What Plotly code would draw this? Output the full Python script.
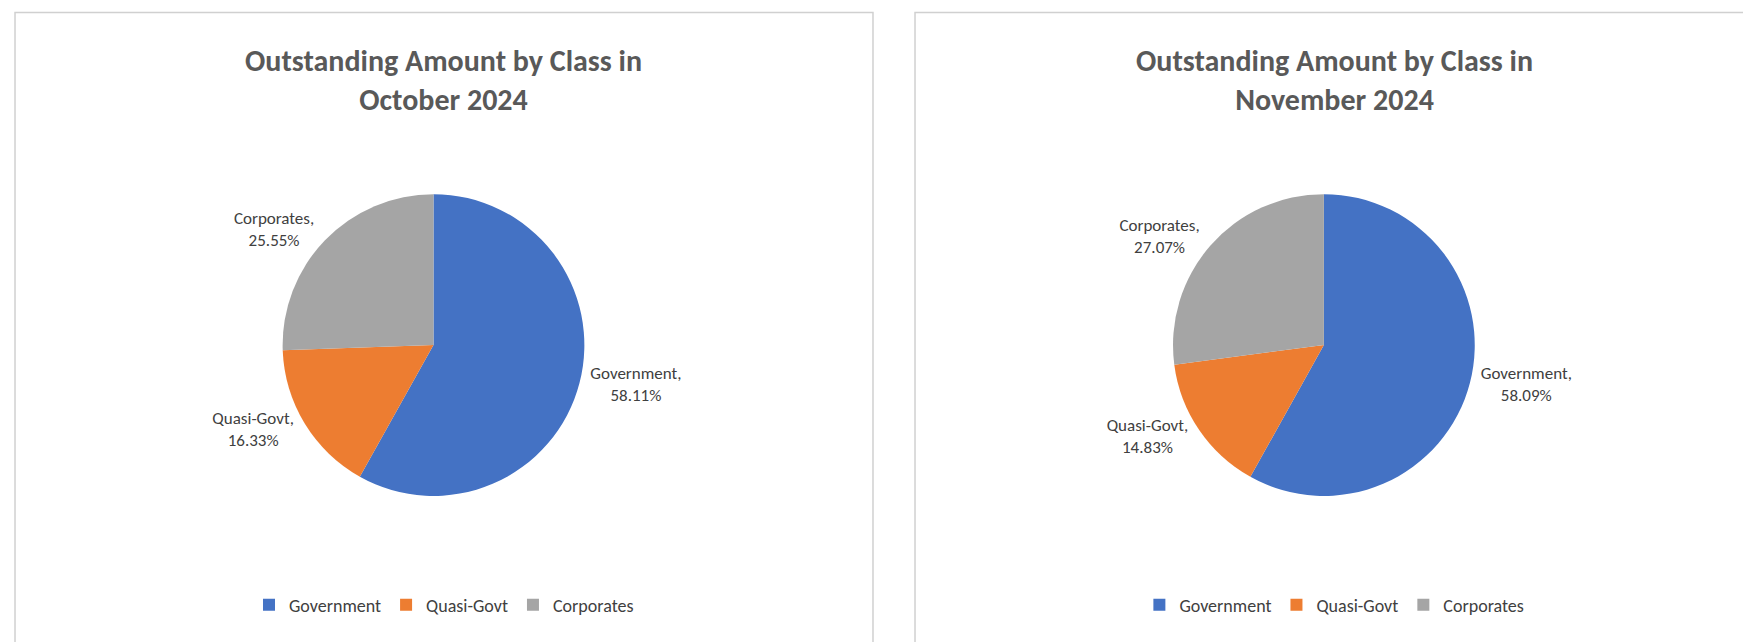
import plotly.graph_objects as go

classes = ["Government", "Quasi-Govt", "Corporates"]
oct_values = [58.11, 16.33, 25.55]
nov_values = [58.09, 14.83, 27.07]
titles = ["Outstanding Amount by Class in<br>October 2024", "Outstanding Amount by Class in<br>November 2024"]
colors = ["#4472C4", "#ED7D31", "#A5A5A5"]

panels = [(0.004, 0.494), (0.518, 0.997)]

fig = go.Figure()
for i, (vals, (x0, x1)) in enumerate(zip([oct_values, nov_values], panels)):
    cx = (x0 + x1) / 2 - 0.006
    fig.add_trace(go.Pie(
        labels=classes, values=vals, sort=False, direction="clockwise", rotation=0,
        marker=dict(colors=colors, line=dict(color="white", width=0)),
        texttemplate="%{label},<br>%{value:.2f}%", textposition="outside",
        textfont=dict(size=17, color="#404040"),
        domain=dict(x=[cx - 0.12, cx + 0.12], y=[0.24, 0.71]),
        showlegend=(i == 0), hoverinfo="label+value",
    ))
    fig.add_annotation(text="<b>" + titles[i] + "</b>", x=(x0 + x1) / 2, y=0.95, xref="paper", yref="paper",
                       xanchor="center", showarrow=False, yanchor="top", font=dict(size=30, color="#595959"))
    fig.add_shape(type="rect", xref="paper", yref="paper", x0=x0, x1=x1, y0=0.005, y1=0.993,
                  line=dict(color="#d0d0d0", width=1.5))

# legend entries for the second panel
for name, c in zip(classes, colors):
    fig.add_trace(go.Scatter(x=[None], y=[None], mode="markers", name=name, legend="legend2",
                             marker=dict(symbol="square", size=12, color=c)))

leg = dict(orientation="h", xanchor="center", yanchor="middle", y=0.07, font=dict(size=18, color="#404040"))
fig.update_layout(
    width=1751, height=642, paper_bgcolor="white", plot_bgcolor="white",
    margin=dict(l=0, r=0, t=0, b=0),
    font=dict(family="Calibri, Liberation Sans, sans-serif"),
    xaxis=dict(visible=False), yaxis=dict(visible=False),
    legend=dict(leg, x=sum(panels[0]) / 2),
    legend2=dict(leg, x=sum(panels[1]) / 2),
)
fig.write_html("out.html")
